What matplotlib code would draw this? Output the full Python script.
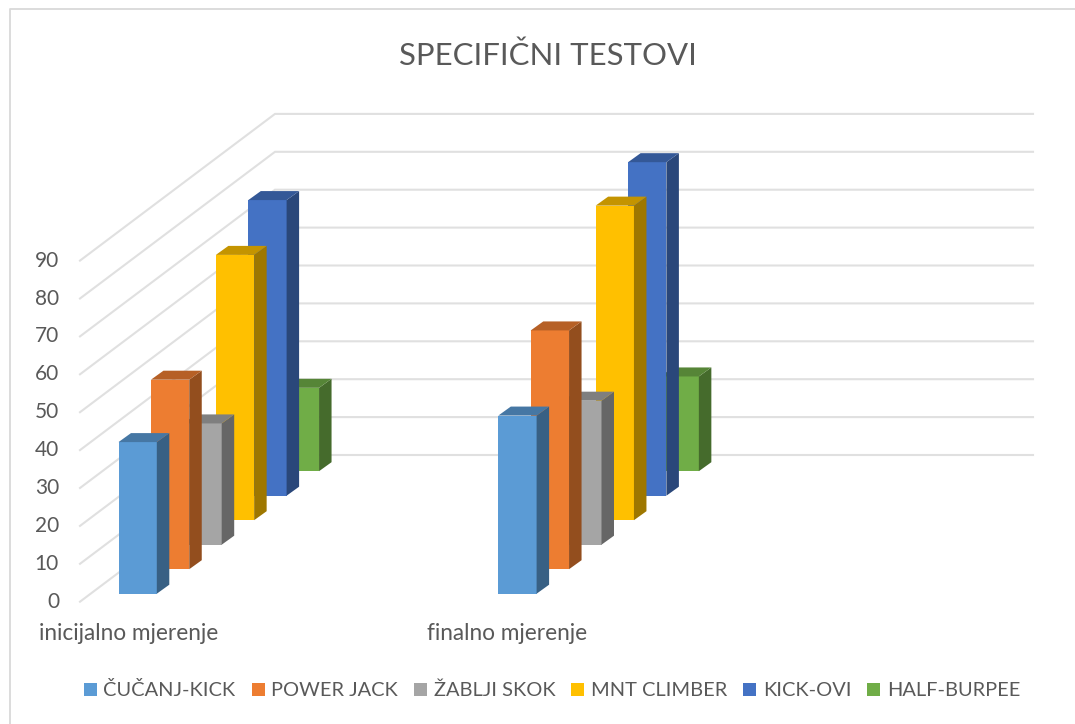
import matplotlib
matplotlib.use('Agg')
import matplotlib.pyplot as plt
from matplotlib.patches import Polygon, Patch

plt.rcParams['font.family'] = ['Lato', 'DejaVu Sans']

categories = ['inicijalno mjerenje', 'finalno mjerenje']
series_names = ['ČUČANJ-KICK', 'POWER JACK', 'ŽABLJI SKOK', 'MNT CLIMBER', 'KICK-OVI', 'HALF-BURPEE']
cucanj_kick = [40, 47]
power_jack = [50, 63]
zablji_skok = [32, 38]
mnt_climber = [70, 83]
kick_ovi = [78, 88]
half_burpee = [22, 25]
series_values = [cucanj_kick, power_jack, zablji_skok, mnt_climber, kick_ovi, half_burpee]
colors = ['#5B9BD5', '#ED7D31', '#A5A5A5', '#FFC000', '#4472C4', '#70AD47']
y_ticks = list(range(0, 100, 10))

# sve je u pikselima slike, kosa projekcija kao 3D stupci u Excelu
UNIT = 3.79
BAR_X0, BAR_Y0 = 118.5, 593.7
BAR_W = 38.3
CAT_STEP = 379.8
SER_DX, SER_DY = 32.45, 24.5
DEPTH_DX, DEPTH_DY = 12.5, 9
GRID_X0, GRID_Y0 = 80, 601.7
WALL_X, WALL_Y0 = 275, 455
GRID_END = 1033
TEXT = '#595959'


def shade(color, f):
    r, g, b = matplotlib.colors.to_rgb(color)
    return (r * f, g * f, b * f)


fig = plt.figure(figsize=(10.75, 7.24), dpi=100)
ax = fig.add_axes([0, 0, 1, 1])
ax.set_xlim(0, 1075)
ax.set_ylim(724, 0)
ax.axis('off')

# okvir, desno i dolje ga nema
ax.plot([10, 10, 1075], [724, 9, 9], color='#D9D9D9', lw=1.3)

# linije mreze
for t in y_ticks:
    h = t * UNIT
    ax.plot([GRID_X0, WALL_X, GRID_END], [GRID_Y0 - h, WALL_Y0 - h, WALL_Y0 - h],
            color='#E0E0E0', lw=1.5, zorder=1, solid_joinstyle='miter')
    ax.text(59, GRID_Y0 - h, str(t), ha='right', va='center', fontsize=15, color=TEXT)


def draw_bar(cat, s, value, color):
    x = BAR_X0 + cat * CAT_STEP + s * SER_DX
    y = BAR_Y0 - s * SER_DY
    top = y - value * UNIT
    right = x + BAR_W
    z = 10 - s
    ax.add_patch(Polygon([(x, y), (right, y), (right, top), (x, top)], fc=color, ec='none', zorder=z))
    ax.add_patch(Polygon([(right, y), (right + DEPTH_DX, y - DEPTH_DY), (right + DEPTH_DX, top - DEPTH_DY),
                          (right, top)], fc=shade(color, 0.62), ec='none', zorder=z))
    ax.add_patch(Polygon([(x, top), (right, top), (right + DEPTH_DX, top - DEPTH_DY),
                          (x + DEPTH_DX, top - DEPTH_DY)], fc=shade(color, 0.77), ec='none', zorder=z))


for s, values in enumerate(series_values):
    for cat, v in enumerate(values):
        draw_bar(cat, s, v, colors[s])

ax.text(548, 56, 'SPECIFIČNI TESTOVI', ha='center', va='center', fontsize=22.4, color=TEXT)

for i, name in enumerate(categories):
    ax.text(39 + i * 388, 633, name, ha='left', va='center', fontsize=16.3, color=TEXT)

handles = [Patch(fc=c, ec='none') for c in colors]
ax.legend(handles, series_names, ncol=6, loc='center', bbox_to_anchor=(552 / 1075, 1 - 690.5 / 724),
          frameon=False, fontsize=14.4, labelcolor=TEXT, handlelength=0.65, handleheight=0.65,
          handletextpad=0.33, columnspacing=0.8)

fig.savefig('out.png', dpi=100)
